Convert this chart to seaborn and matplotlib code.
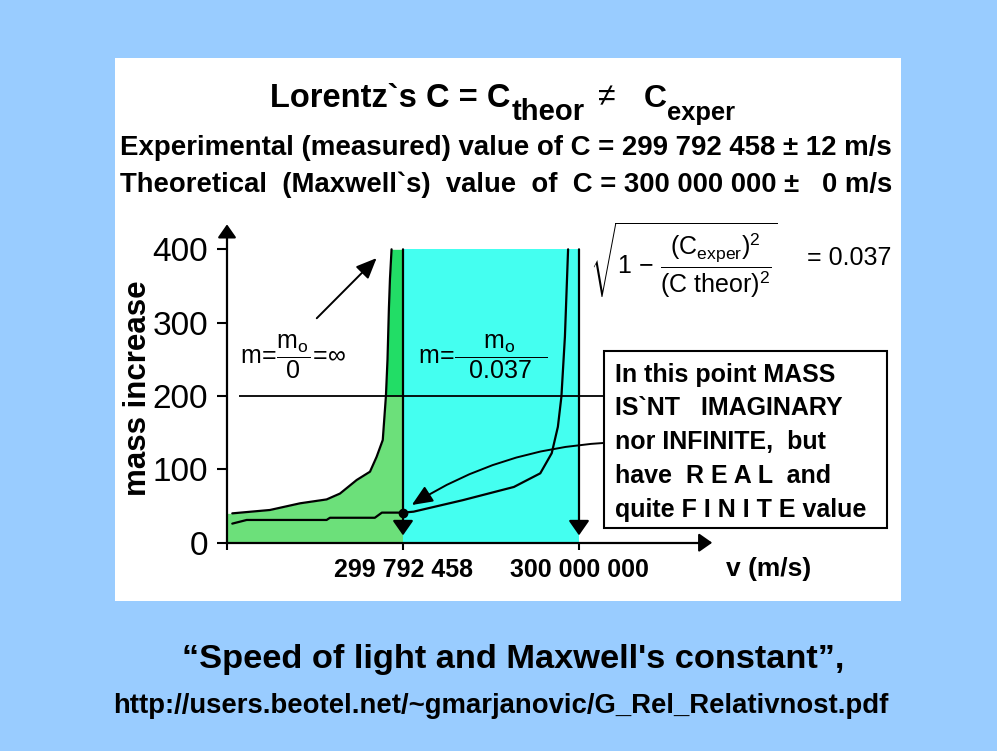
import matplotlib
matplotlib.use("Agg")
import matplotlib.pyplot as plt
from matplotlib.patches import Rectangle
import seaborn as sns
import numpy as np

# ==== Data ====
# upper (green) curve: mass vs speed when C_exper is the limit
upper_v = [0.03, 0.244, 0.415, 0.566, 0.642, 0.737, 0.8125, 0.85, 0.885, 0.903, 0.912, 0.92, 0.926, 0.935]
upper_m = [40, 44.6, 53.7, 59, 67, 85.5, 96.8, 117, 140, 200, 250, 320, 360, 400]
# lower curve: mass vs speed when C_theor is the limit
lower_v = [0.03, 0.112, 0.566, 0.585, 0.84, 0.88, 1.0, 1.06, 1.34, 1.63, 1.78, 1.845, 1.88, 1.90, 1.92, 1.938]
lower_m = [26, 31, 31, 34, 34, 41, 41, 42.3, 58, 76, 94.6, 122, 158, 199, 281, 400]

c_exper_pos = 1.0
c_theor_pos = 2.0
m_top = 400
m_level = 200
m_point = 41

y_ticks = [0, 100, 200, 300, 400]
x_ticks = [0, 1, 2]
x_tick_labels = ["", "299 792 458", "300 000 000"]

box_lines = [
    "In this point MASS",
    "IS`NT   IMAGINARY",
    "nor INFINITE,  but",
    "have  R E A L  and",
    "quite F I N I T E value",
]

title_main = "Lorentz`s C = C"
line_exper = "Experimental (measured) value of C = 299 792 458 \u00b1 12 m/s"
line_theor = "Theoretical  (Maxwell`s)  value  of  C = 300 000 000 \u00b1   0 m/s"
eq_inf = r"$\mathrm{m}\!=\!\dfrac{\mathrm{m_o}}{0}\!=\!\infty$"
eq_037 = r"$\mathrm{m}\!=\!\dfrac{\mathrm{m_o}}{\ \ 0.037\ \ }$"
eq_sqrt = r"$\sqrt{1\ \mathrm{-}\ \dfrac{(\mathrm{C_{exper}})^2}{(\mathrm{C\ theor})^2}}$"
caption = "\u201cSpeed of light and Maxwell's constant\u201d,"
url = "http://users.beotel.net/~gmarjanovic/G_Rel_Relativnost.pdf"

# ==== Style ====
sns.set_theme(style="white")
NARROW = ["Liberation Sans Narrow", "Liberation Sans", "DejaVu Sans"]
SANS = ["Liberation Sans", "DejaVu Sans"]
plt.rcParams["font.family"] = SANS
plt.rcParams["text.color"] = "black"
plt.rcParams["axes.labelcolor"] = "black"
plt.rcParams["mathtext.fontset"] = "custom"
plt.rcParams["mathtext.rm"] = "Liberation Sans"
plt.rcParams["mathtext.it"] = "Liberation Sans:italic"
plt.rcParams["mathtext.bf"] = "Liberation Sans:bold"

BG = "#99CCFF"
LIGHT_GREEN = "#6CE07A"
BRIGHT_GREEN = "#22DD66"
CYAN = "#44FFF0"

W, H = 997, 751
fig = plt.figure(figsize=(W / 100, H / 100), dpi=100, facecolor=BG)


def fx(px):
    return px / W


def fy(py):
    return 1 - py / H


# white panel (behind the axes)
fig.patches.append(Rectangle((fx(115), fy(601)), fx(901) - fx(115), fy(58) - fy(601),
                             transform=fig.transFigure, facecolor="white", edgecolor="none", zorder=-1))

# axes placed so that v=0 sits at x=227px, m=0 at y=542.7px
AX_L, AX_R, AX_T, AX_B = 200, 730, 215, 560
X0, XU, Y0, YU = 227, 176, 542.7, 0.7335
ax = fig.add_axes([fx(AX_L), fy(AX_B), (AX_R - AX_L) / W, (AX_B - AX_T) / H])
ax.set_facecolor("none")
ax.set_xlim((AX_L - X0) / XU, (AX_R - X0) / XU)
ax.set_ylim((Y0 - AX_B) / YU, (Y0 - AX_T) / YU)


def ax_fx(px):
    return (px - AX_L) / (AX_R - AX_L)


def ax_fy(py):
    return (AX_B - py) / (AX_B - AX_T)


box_left = (604 - X0) / XU

# fills
fill_v = [0.0] + upper_v + [c_exper_pos]
fill_m = [upper_m[0]] + upper_m + [m_top]
ax.fill_between(fill_v, 0, np.minimum(fill_m, m_level), color=LIGHT_GREEN, lw=0, zorder=1)
hi = [i for i, m in enumerate(upper_m) if m >= m_level]
ax.fill_betweenx([upper_m[i] for i in hi], [upper_v[i] for i in hi], c_exper_pos,
                 color=BRIGHT_GREEN, lw=0, zorder=1)
ax.fill_between([c_exper_pos, c_theor_pos], 0, m_top, color=CYAN, lw=0, zorder=1)

# curves
sns.lineplot(x=upper_v, y=upper_m, color="black", lw=1.6, estimator=None, sort=False, ax=ax, zorder=3)
sns.lineplot(x=lower_v, y=lower_m, color="black", lw=1.6, estimator=None, sort=False, ax=ax, zorder=3)

ax.hlines(m_level, 0.07, box_left, color="black", lw=1.3, zorder=3)

head = "-|>,head_length=0.5,head_width=0.35"
for xp in (c_exper_pos, c_theor_pos):
    ax.annotate("", xy=(xp, 10), xytext=(xp, m_top),
                arrowprops=dict(arrowstyle=head, color="black", lw=1.6, mutation_scale=18,
                                shrinkA=0, shrinkB=0), zorder=4)

ax.plot([c_exper_pos], [m_point], "o", color="black", ms=6, zorder=5)

# pointer arrows
ax.annotate("", xy=(0.85, 388), xytext=(0.51, 306),
            arrowprops=dict(arrowstyle="-|>,head_length=0.7,head_width=0.3", color="black", lw=1.4,
                            mutation_scale=18, shrinkA=0, shrinkB=0), zorder=4)
ax.annotate("", xy=(1.05, 51.4), xytext=(box_left, 136),
            arrowprops=dict(arrowstyle="-|>,head_length=0.7,head_width=0.3", color="black", lw=1.4,
                            mutation_scale=18, shrinkA=0, shrinkB=0,
                            connectionstyle="arc3,rad=0.13"), zorder=4)

# axes spines with arrows
for s in ("top", "right"):
    ax.spines[s].set_visible(False)
ax.spines["left"].set_position(("data", 0))
ax.spines["bottom"].set_position(("data", 0))
ax.spines["left"].set_bounds(0, 426)
ax.spines["bottom"].set_bounds(0, 2.70)
for s in ("left", "bottom"):
    ax.spines[s].set_linewidth(1.6)
    ax.spines[s].set_color("black")
    ax.spines[s].set_zorder(6)
ax.annotate("", xy=(0, 434), xytext=(0, 420),
            arrowprops=dict(arrowstyle=head, color="black", lw=1.6, mutation_scale=16,
                            shrinkA=0, shrinkB=0), annotation_clip=False)
ax.annotate("", xy=(2.757, 0), xytext=(2.68, 0),
            arrowprops=dict(arrowstyle=head, color="black", lw=1.6, mutation_scale=16,
                            shrinkA=0, shrinkB=0), annotation_clip=False)

ax.set_yticks(y_ticks, labels=[str(t) for t in y_ticks], fontfamily=NARROW, fontsize=24)
ax.set_xticks(x_ticks, labels=x_tick_labels, fontweight="bold", fontsize=18)
ax.tick_params(axis="y", direction="out", length=7.5, width=1.5, pad=6, colors="black", left=True)
ax.tick_params(axis="x", direction="out", length=5, width=1.5, pad=6, colors="black", bottom=True)

ax.set_xlabel("v (m/s)", fontsize=19, fontweight="bold", color="black")
ax.xaxis.set_label_coords(ax_fx(769), ax_fy(557))
ax.set_ylabel("mass increase", fontsize=22.5, fontweight="bold", color="black", va="center")
ax.yaxis.set_label_coords(ax_fx(137.5), ax_fy(388))

# ==== Texts ====
renderer = fig.canvas.get_renderer()


def fit(t, width_px):
    w = t.get_window_extent(renderer).width
    t.set_fontsize(t.get_fontsize() * width_px / w)


t = fig.text(fx(270), fy(106.7), title_main, fontsize=23, fontweight="bold", va="baseline")
fit(t, 240)
t = fig.text(fx(512), fy(120), "theor", fontsize=20, fontweight="bold", va="baseline")
fit(t, 73)
fig.text(fx(598), fy(106.7), "\u2260", fontsize=23, va="baseline")
fig.text(fx(644), fy(106.7), "C", fontsize=23, fontweight="bold", va="baseline")
t = fig.text(fx(667), fy(120), "exper", fontsize=20, fontweight="bold", va="baseline")
fit(t, 68)

t = fig.text(fx(120), fy(155), line_exper, fontsize=16, fontweight="bold", va="baseline")
fit(t, 770)
t = fig.text(fx(120), fy(191.7), line_theor, fontsize=16, fontweight="bold", va="baseline")
fit(t, 770)

fig.text(fx(240), fy(357), eq_inf, fontsize=18, va="center")
fig.text(fx(418), fy(357), eq_037, fontsize=18, va="center")
fig.text(fx(590), fy(261), eq_sqrt, fontsize=18, va="center")
fig.text(fx(807), fy(265), "= 0.037", fontsize=18, va="baseline")

# explanation box
fig.patches.append(Rectangle((fx(604), fy(528.3)), fx(886.7) - fx(604), fy(351) - fy(528.3),
                             transform=fig.transFigure, fill=False, edgecolor="black", lw=1.5, zorder=5))
for i, line in enumerate(box_lines):
    fig.text(fx(615), fy(381.7 + 33.75 * i), line, fontsize=18, fontweight="bold", va="baseline")

t = fig.text(fx(513.5), fy(668.3), caption, fontsize=22, fontweight="bold", ha="center", va="baseline")
fit(t, 664)
t = fig.text(fx(501), fy(713.3), url, fontsize=18, fontweight="bold", ha="center", va="baseline")
fit(t, 776)

fig.savefig("out.png", dpi=100, facecolor=fig.get_facecolor())
